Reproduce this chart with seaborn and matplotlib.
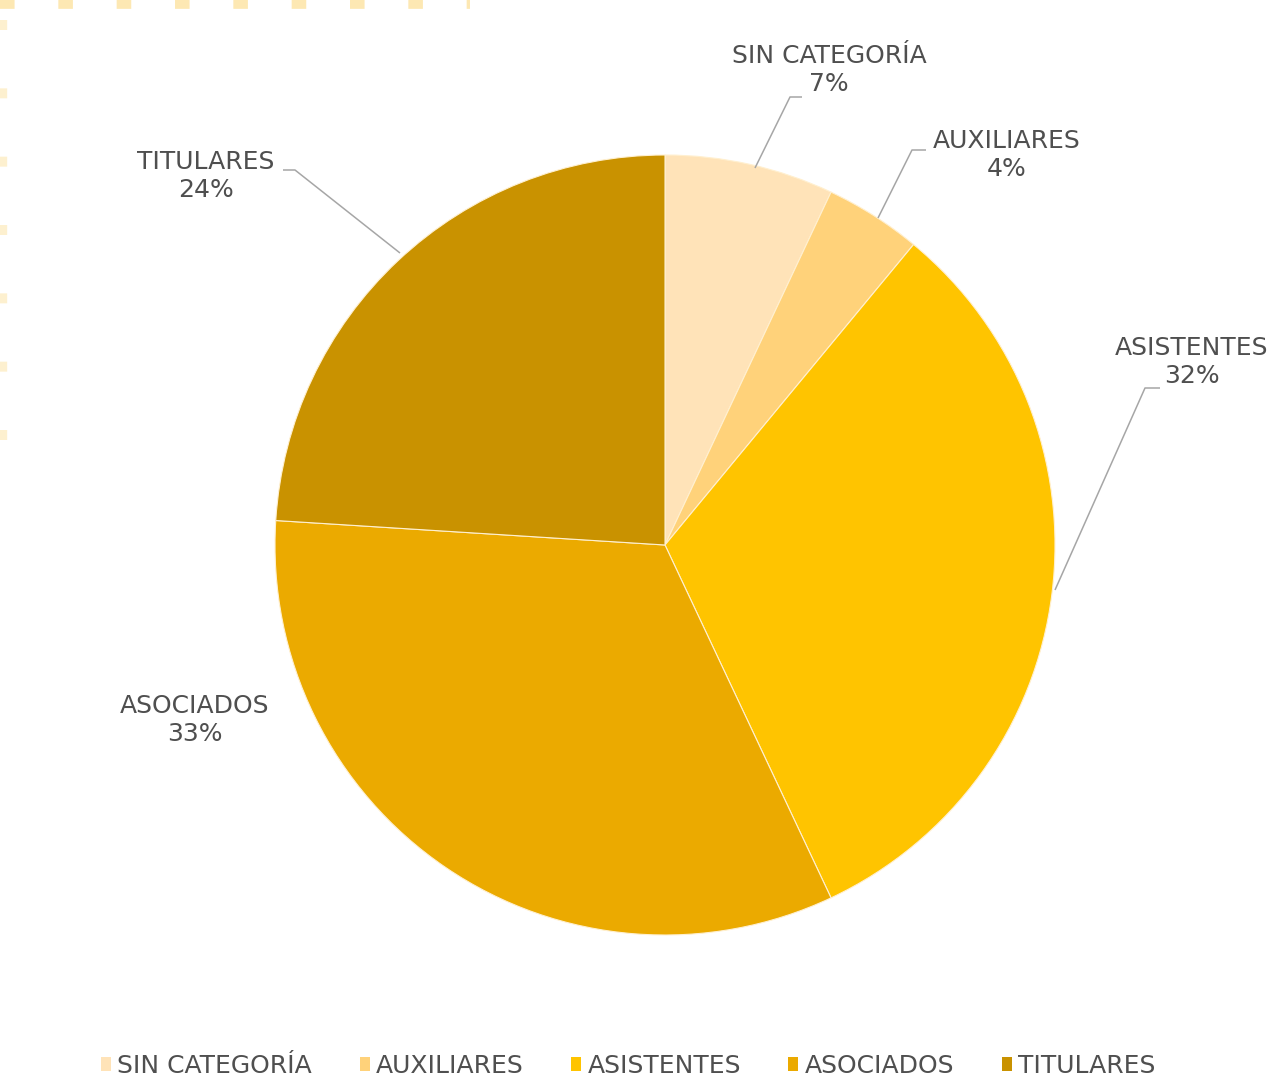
import matplotlib
matplotlib.use("Agg")
import matplotlib.pyplot as plt
from matplotlib.patches import Patch
import seaborn as sns

# Distribution of staff by category (percent)
categories = ["SIN CATEGORÍA", "AUXILIARES", "ASISTENTES", "ASOCIADOS", "TITULARES"]
shares = [7, 4, 32, 33, 24]
palette = ["#FFE3B8", "#FFD27A", "#FFC400", "#EBAA00", "#C99200"]

sns.set_theme(style="white")
plt.rcParams["font.family"] = ["DejaVu Sans"]

W, H = 1277, 1081
fig = plt.figure(figsize=(W / 100, H / 100), dpi=100)
ax = fig.add_axes([0, 0, 1, 1])


def Y(y):
    return H - y


cx, cy, r = 665, 545, 390
wedges, _ = ax.pie(
    shares,
    colors=palette,
    startangle=90,
    counterclock=False,
    center=(cx, Y(cy)),
    radius=r,
    wedgeprops=dict(edgecolor="#FFF0D0", linewidth=0.8),
)
ax.set_xlim(0, W)
ax.set_ylim(0, H)
ax.set_aspect("equal")
ax.axis("off")

text_color = "#4F4F4F"
line_color = "#A6A6A6"
fs = 18

# label anchor (text centre) and leader path (start on pie edge, elbow, end)
labels_cfg = [
    ((829, 70), [(755, 168), (790, 97), (802, 97)]),
    ((1007, 155), [(878, 218), (912, 150), (926, 150)]),
    ((1192, 362), [(1055, 590), (1145, 388), (1160, 388)]),
    ((195, 720), None),
    ((206, 176), [(400, 253), (295, 170), (283, 170)]),
]

for name, val, ((tx, ty), path) in zip(categories, shares, labels_cfg):
    ax.text(tx, Y(ty), f"{name}\n{val}%", ha="center", va="center",
            fontsize=fs, color=text_color, linespacing=1.25, fontweight="medium")
    if path:
        ax.plot([p[0] for p in path], [Y(p[1]) for p in path],
                color=line_color, lw=1.1, solid_capstyle="butt")

# decorative dotted border in the upper-left corner
ax.plot([0, 470], [Y(4), Y(4)], color="#FDE3A0", lw=7, alpha=0.8,
        dashes=(1.5, 4.5))
ax.plot([3, 3], [Y(20), Y(450)], color="#FDE3A0", lw=6, alpha=0.5,
        dashes=(1.2, 7))

handles = [Patch(facecolor=c, edgecolor="none") for c in palette]
fig.legend(handles, categories, loc="center", bbox_to_anchor=(0.492, 1 - 1066 / H),
           ncol=5, frameon=False, fontsize=fs, handlelength=0.4, handleheight=0.5,
           handletextpad=0.25, columnspacing=1.9, labelcolor=text_color)

fig.savefig("out.png", dpi=100, facecolor="white")
